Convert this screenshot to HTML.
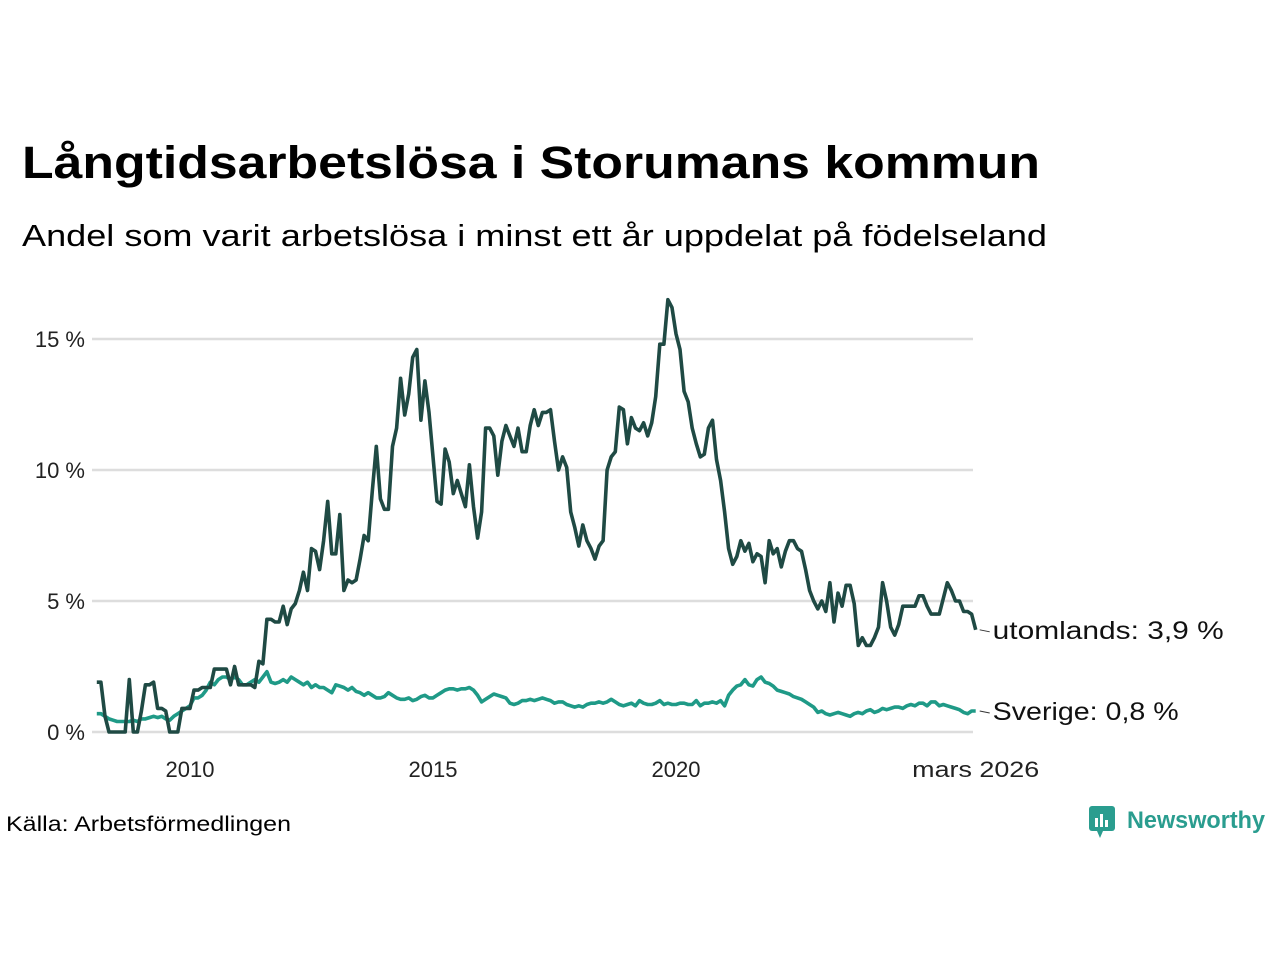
<!DOCTYPE html>
<html><head><meta charset="utf-8"><style>
body{margin:0;width:1280px;height:960px;background:#fff;font-family:"Liberation Sans","DejaVu Sans",sans-serif;color:#111;overflow:hidden}
</style></head><body>
<svg id="chart" width="1280" height="960">
<text x="22" y="178" font-size="45" font-weight="bold" textLength="1018" lengthAdjust="spacingAndGlyphs">Långtidsarbetslösa i Storumans kommun</text>
<text x="22" y="246" font-size="31" textLength="1025" lengthAdjust="spacingAndGlyphs">Andel som varit arbetslösa i minst ett år uppdelat på födelseland</text>
<g id="grid"></g><g id="lines"></g>
<text x="6" y="831" font-size="21" textLength="285" lengthAdjust="spacingAndGlyphs">Källa: Arbetsförmedlingen</text>
<g>
<rect x="1089" y="806" width="26" height="25" rx="3" fill="#2a9d8f"/>
<polygon points="1097,831 1103,831 1100,838" fill="#2a9d8f"/>
<rect x="1095" y="818" width="3" height="9" fill="#fff"/><rect x="1100" y="814" width="3" height="13" fill="#fff"/><rect x="1105" y="820" width="3" height="7" fill="#fff"/>
<text x="1127" y="828" font-size="24" font-weight="bold" textLength="138" lengthAdjust="spacingAndGlyphs" fill="#2a9d8f">Newsworthy</text>
</g>
</svg>
<script>
const startYear=2008, startMonth=1; // Feb 2008 (0-based month)
const yTicks=[0,5,10,15];
const yTickLabels=["0 %","5 %","10 %","15 %"];
const xTicks=[2010,2015,2020];
const utomlands=[1.9,1.9,0.6,0,0,0,0,0,2.0,0,0,
0.8,1.8,1.8,1.9,0.9,0.9,0.8,0,0,0,0.9,0.9,
0.9,1.6,1.6,1.7,1.7,1.7,2.4,2.4,2.4,2.4,1.8,2.5,
1.8,1.8,1.8,1.8,1.7,2.7,2.6,4.3,4.3,4.2,4.2,4.8,
4.1,4.7,4.9,5.4,6.1,5.4,7.0,6.9,6.2,7.3,8.8,6.8,
6.8,8.3,5.4,5.8,5.7,5.8,6.6,7.5,7.3,9.2,10.9,8.9,
8.5,8.5,10.9,11.6,13.5,12.1,12.9,14.3,14.6,11.9,13.4,12.2,
10.5,8.8,8.7,10.8,10.3,9.1,9.6,9.1,8.6,10.2,8.6,7.4,
8.4,11.6,11.6,11.3,9.8,11.1,11.7,11.3,10.9,11.6,10.7,10.7,
11.7,12.3,11.7,12.2,12.2,12.3,11.1,10.0,10.5,10.1,8.4,7.8,
7.1,7.9,7.3,7.0,6.6,7.1,7.3,10.0,10.5,10.7,12.4,12.3,
11.0,12.0,11.6,11.5,11.8,11.3,11.8,12.8,14.8,14.8,16.5,16.2,
15.2,14.6,13.0,12.6,11.6,11.0,10.5,10.6,11.6,11.9,10.4,9.6,
8.4,7.0,6.4,6.7,7.3,6.9,7.2,6.5,6.8,6.7,5.7,7.3,
6.8,7.0,6.3,6.9,7.3,7.3,7.0,6.9,6.2,5.4,5.0,4.7,
5.0,4.6,5.7,4.2,5.3,4.8,5.6,5.6,4.9,3.3,3.6,3.3,
3.3,3.6,4.0,5.7,5.0,4.0,3.7,4.1,4.8,4.8,4.8,4.8,
5.2,5.2,4.8,4.5,4.5,4.5,5.1,5.7,5.4,5.0,5.0,4.6,
4.6,4.5,3.9];
const sverige=[0.7,0.7,0.6,0.5,0.45,0.4,0.4,0.4,0.4,0.45,0.4,
0.5,0.5,0.55,0.6,0.55,0.6,0.5,0.45,0.6,0.7,0.8,0.9,
1.0,1.3,1.3,1.4,1.6,1.9,1.8,2.0,2.1,2.1,2.0,2.1,
2.0,1.8,1.8,1.9,2.0,1.9,2.1,2.3,1.9,1.85,1.9,2.0,
1.9,2.1,2.0,1.9,1.8,1.9,1.7,1.8,1.7,1.7,1.6,1.5,
1.8,1.75,1.7,1.6,1.7,1.55,1.5,1.4,1.5,1.4,1.3,1.3,
1.35,1.5,1.4,1.3,1.25,1.25,1.3,1.2,1.25,1.35,1.4,1.3,
1.3,1.4,1.5,1.6,1.65,1.65,1.6,1.65,1.65,1.7,1.6,1.4,
1.15,1.25,1.35,1.45,1.4,1.35,1.3,1.1,1.05,1.1,1.2,1.2,
1.25,1.2,1.25,1.3,1.25,1.2,1.1,1.15,1.15,1.05,1.0,0.95,
1.0,0.95,1.05,1.1,1.1,1.15,1.1,1.15,1.25,1.15,1.05,1.0,
1.05,1.1,1.0,1.2,1.1,1.05,1.05,1.1,1.2,1.05,1.1,1.05,
1.05,1.1,1.1,1.05,1.05,1.2,1.0,1.1,1.1,1.15,1.1,1.2,
1.0,1.4,1.6,1.75,1.8,2.0,1.8,1.75,2.0,2.1,1.9,1.85,
1.75,1.6,1.55,1.5,1.45,1.35,1.3,1.25,1.15,1.05,0.95,0.75,
0.8,0.7,0.65,0.7,0.75,0.7,0.65,0.6,0.7,0.75,0.7,0.8,
0.85,0.75,0.8,0.9,0.85,0.9,0.95,0.95,0.9,1.0,1.05,1.0,
1.1,1.1,1.0,1.15,1.15,1.0,1.05,1.0,0.95,0.9,0.85,0.75,
0.7,0.8,0.8];
const seriesLabels=["utomlands: 3,9 %","Sverige: 0,8 %"];
const NS="http://www.w3.org/2000/svg";
function yS(v){return 732-v*26.2;}
function xS(t){return 190+(t-2010)*48.6;}
function tOf(i){return startYear+(startMonth+i)/12;}
const grid=document.getElementById('grid'), lines=document.getElementById('lines');
function mk(tag,attrs,parent){const e=document.createElementNS(NS,tag);for(const k in attrs)e.setAttribute(k,attrs[k]);parent.appendChild(e);return e;}
yTicks.forEach((v,i)=>{
 const l=mk('line',{x1:92,x2:973,y1:yS(v),y2:yS(v),stroke:'#dddddd','stroke-width':2.5},grid);
 
 
 const t=mk('text',{x:85,y:yS(v)+8,'text-anchor':'end','font-size':22,fill:'#222'},grid);
 t.textContent=yTickLabels[i];
 
 
});
xTicks.forEach(y=>{
 const t=mk('text',{x:xS(y),y:777,'text-anchor':'middle','font-size':22,fill:'#222'},grid);
 t.textContent=String(y);
 
 
});
const lastT=tOf(utomlands.length-1);
const lt=mk('text',{x:xS(lastT),y:777,'text-anchor':'middle','font-size':22,fill:'#222',textLength:127,lengthAdjust:'spacingAndGlyphs'},grid);
lt.textContent='mars 2026';


function draw(arr,color,name,label,ly,len){
 const d=arr.map((v,i)=>(i?'L':'M')+xS(tOf(i)).toFixed(1)+','+yS(v).toFixed(1)).join('');
 const p=mk('path',{d:d,fill:'none',stroke:color,'stroke-width':3.6,'stroke-linejoin':'round'},lines);
 
 
 const ex=xS(tOf(arr.length-1)), ey=yS(arr[arr.length-1]);
 mk('line',{x1:ex+4,y1:ey,x2:ex+14,y2:ey+2,stroke:'#333','stroke-width':1},lines);
 const t=mk('text',{x:ex+17,y:ly,'font-size':25,fill:'#111',textLength:len,lengthAdjust:'spacingAndGlyphs'},lines);
 t.textContent=label;
 
 
}
draw(sverige,'#1f9a87','series-sverige',seriesLabels[1],720,186);
draw(utomlands,'#1f4a44','series-utomlands',seriesLabels[0],639,231);
</script>
</body></html>
